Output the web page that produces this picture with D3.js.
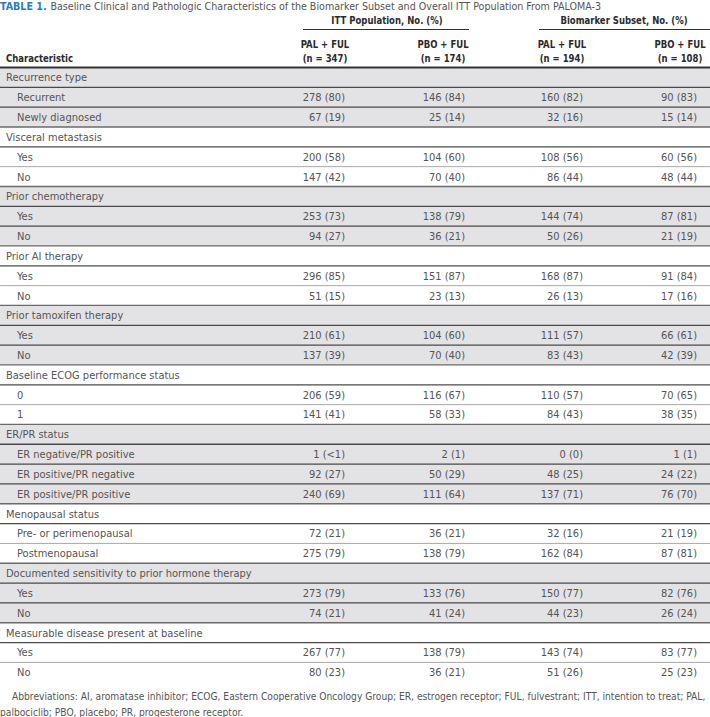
<!DOCTYPE html>
<html>
<head>
<meta charset="utf-8">
<script src="https://cdn.jsdelivr.net/npm/d3@7"></script>
<style>
  body { margin: 0; background: #fff; }
  svg { display: block; font-family: "Liberation Sans Narrow", "DejaVu Sans Condensed", "Liberation Sans", sans-serif; }
  .hdr { font-weight: bold; fill: #2b2b2b; font-size: 11px; }
  .cell { fill: #555; font-size: 11px; }
  .note { fill: #555; font-size: 10.5px; }
</style>
</head>
<body>
<svg id="tbl" width="710" height="717"></svg>
<script>
// group headers and their rows
var groups = [
  "Recurrence type", "Visceral metastasis", "Prior chemotherapy", "Prior AI therapy",
  "Prior tamoxifen therapy", "Baseline ECOG performance status", "ER/PR status",
  "Menopausal status", "Documented sensitivity to prior hormone therapy",
  "Measurable disease present at baseline"
];
var subgroups = [
  ["Recurrent", "Newly diagnosed"],
  ["Yes", "No"],
  ["Yes", "No"],
  ["Yes", "No"],
  ["Yes", "No"],
  ["0", "1"],
  ["ER negative/PR positive", "ER positive/PR negative", "ER positive/PR positive"],
  ["Pre- or perimenopausal", "Postmenopausal"],
  ["Yes", "No"],
  ["Yes", "No"]
];

// column headers
var columns = ["PAL + FUL", "PBO + FUL", "PAL + FUL", "PBO + FUL"];
var columnN = ["(n = 347)", "(n = 174)", "(n = 194)", "(n = 108)"];
var spanners = ["ITT Population, No. (%)", "Biomarker Subset, No. (%)"];

// values, one per subgroup row, in order
var ittPal = ["278 (80)", "67 (19)", "200 (58)", "147 (42)", "253 (73)", "94 (27)", "296 (85)", "51 (15)",
  "210 (61)", "137 (39)", "206 (59)", "141 (41)", "1 (<1)", "92 (27)", "240 (69)", "72 (21)", "275 (79)",
  "273 (79)", "74 (21)", "267 (77)", "80 (23)"];
var ittPbo = ["146 (84)", "25 (14)", "104 (60)", "70 (40)", "138 (79)", "36 (21)", "151 (87)", "23 (13)",
  "104 (60)", "70 (40)", "116 (67)", "58 (33)", "2 (1)", "50 (29)", "111 (64)", "36 (21)", "138 (79)",
  "133 (76)", "41 (24)", "138 (79)", "36 (21)"];
var bioPal = ["160 (82)", "32 (16)", "108 (56)", "86 (44)", "144 (74)", "50 (26)", "168 (87)", "26 (13)",
  "111 (57)", "83 (43)", "110 (57)", "84 (43)", "0 (0)", "48 (25)", "137 (71)", "32 (16)", "162 (84)",
  "150 (77)", "44 (23)", "143 (74)", "51 (26)"];
var bioPbo = ["90 (83)", "15 (14)", "60 (56)", "48 (44)", "87 (81)", "21 (19)", "91 (84)", "17 (16)",
  "66 (61)", "42 (39)", "70 (65)", "38 (35)", "1 (1)", "24 (22)", "76 (70)", "21 (19)", "87 (81)",
  "82 (76)", "26 (24)", "83 (77)", "25 (23)"];

var footnote = [
  "Abbreviations: AI, aromatase inhibitor; ECOG, Eastern Cooperative Oncology Group; ER, estrogen receptor; FUL, fulvestrant; ITT, intention to treat; PAL,",
  "palbociclib; PBO, placebo; PR, progesterone receptor."
];

// flatten into table rows
var rows = [];
var k = 0;
groups.forEach(function(g, gi) {
  rows.push({label: g, header: true, shade: gi % 2 === 0, group: gi});
  subgroups[gi].forEach(function(s, si) {
    rows.push({label: s, header: false, shade: gi % 2 === 0, group: gi,
      last: si === subgroups[gi].length - 1,
      vals: [ittPal[k], ittPbo[k], bioPal[k], bioPbo[k]]});
    k++;
  });
});

var svg = d3.select("#tbl");
var W = 710;
var squeeze = 0.86; // print header face is condensed

var y = d3.scaleBand()
    .domain(d3.range(rows.length))
    .range([67.5, 67.5 + rows.length * 19.83]);

// right edge of each value column, and header centres
var xRight = d3.scaleOrdinal().domain(d3.range(4)).range([345, 465, 583, 697]);
var xMid = d3.scaleOrdinal().domain(d3.range(4)).range([325, 443, 562, 680]);

// header text placed at (x, y) and squeezed horizontally
function hdrText(x, yy, txt, anchor) {
  return svg.append("text")
      .attr("class", "hdr")
      .attr("transform", "translate(" + x + "," + yy + ") scale(" + squeeze + ",1)")
      .attr("text-anchor", anchor || "middle")
      .text(txt);
}

/*
 * TITLE
 */
var title = svg.append("text")
    .attr("x", 0)
    .attr("y", 10)
    .attr("font-size", 11);
title.append("tspan")
    .attr("font-weight", "bold")
    .attr("fill", "#2a7cc0")
    .text("TABLE 1.");
title.append("tspan")
    .attr("fill", "#555")
    .attr("dx", 4)
    .text("Baseline Clinical and Pathologic Characteristics of the Biomarker Subset and Overall ITT Population From PALOMA-3");
title.attr("textLength", 601).attr("lengthAdjust", "spacingAndGlyphs");

/*
 * HEADER
 */
var spanX = [[303, 469], [539, 710]];
spanners.forEach(function(s, i) {
  hdrText(i ? 624 : 387, 24, s);
  svg.append("line")
      .attr("x1", spanX[i][0]).attr("x2", spanX[i][1])
      .attr("y1", 29.5).attr("y2", 29.5)
      .attr("stroke", "#333").attr("stroke-width", 1);
});

columns.forEach(function(c, i) { hdrText(xMid(i), 47.5, c); });
columnN.forEach(function(c, i) { hdrText(xMid(i), 62, c); });
hdrText(6, 62, "Characteristic", "start");

/*
 * BODY
 */
var body = svg.append("g");

body.selectAll("rect")
  .data(rows)
  .enter().append("rect")
    .attr("x", 0)
    .attr("y", (d, i) => y(i))
    .attr("width", W)
    .attr("height", y.bandwidth())
    .attr("fill", d => d.shade ? "#e3e2e4" : "#fff");

// row separators, drawn under each row except the last
body.selectAll("line")
  .data(rows.slice(0, -1))
  .enter().append("line")
    .attr("x1", 0).attr("x2", W)
    .attr("y1", (d, i) => y(i) + y.bandwidth())
    .attr("y2", (d, i) => y(i) + y.bandwidth())
    .attr("stroke", d => (!d.shade && !d.header && !d.last) ? "#a8a8a8" : (d.last ? "#6a6a6a" : "#4a4a4a"))
    .attr("stroke-width", d => (!d.shade && !d.header && !d.last) ? 1 : 1.3);

svg.append("line")
    .attr("x1", 0).attr("x2", W)
    .attr("y1", y(0)).attr("y2", y(0))
    .attr("stroke", "#333").attr("stroke-width", 2);

body.selectAll("text.label")
  .data(rows)
  .enter().append("text")
    .attr("class", "cell label")
    .attr("x", d => d.header ? 6 : 17)
    .attr("y", (d, i) => y(i) + y.bandwidth() / 2)
    .attr("dy", "0.36em")
    .text(d => d.label);

rows.forEach(function(r, i) {
  if (r.header) return;
  body.selectAll(null)
    .data(r.vals)
    .enter().append("text")
      .attr("class", "cell")
      .attr("x", (d, j) => xRight(j))
      .attr("y", y(i) + y.bandwidth() / 2)
      .attr("dy", "0.36em")
      .attr("text-anchor", "end")
      .text(d => d);
});

/*
 * FOOTNOTE
 */
var notes = svg.selectAll("text.note")
  .data(footnote)
  .enter().append("text")
    .attr("class", "note")
    .attr("x", (d, i) => i ? 0 : 12)
    .attr("y", (d, i) => 700 + i * 16)
    .text(d => d);
// first line runs to the right margin: shrink the size until it fits
var noteLen = notes.node().getComputedTextLength();
if (noteLen > 694) notes.style("font-size", (10.5 * 694 / noteLen) + "px");
</script>
</body>
</html>
